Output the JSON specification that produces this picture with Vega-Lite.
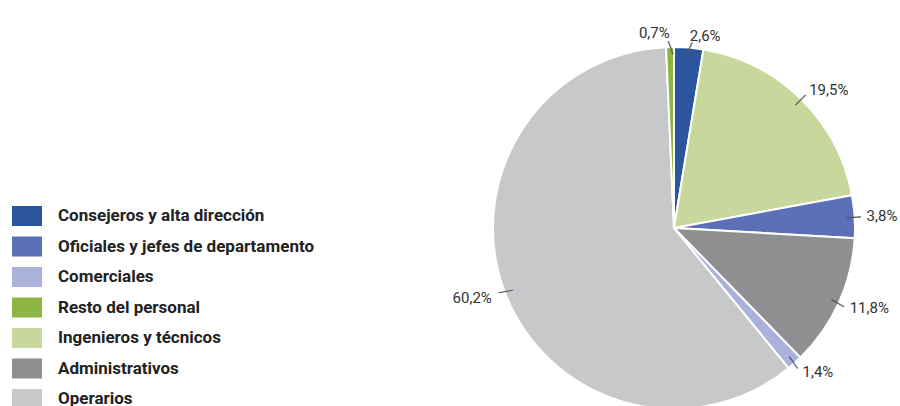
{
  "$schema": "https://vega.github.io/schema/vega-lite/v6.json",
  "width": 362,
  "height": 362,
  "autosize": {"type": "none"},
  "padding": {"left": 493, "top": 47, "right": 45, "bottom": 0},
  "background": "white",
  "config": {"view": {"stroke": null}},
  "data": {
    "values": [
      {"cat": "Consejeros y alta dirección", "pct": 2.6, "ord": 1, "label": "2,6%"},
      {"cat": "Ingenieros y técnicos", "pct": 19.5, "ord": 2, "label": "19,5%"},
      {"cat": "Oficiales y jefes de departamento", "pct": 3.8, "ord": 3, "label": "3,8%"},
      {"cat": "Administrativos", "pct": 11.8, "ord": 4, "label": "11,8%"},
      {"cat": "Comerciales", "pct": 1.4, "ord": 5, "label": "1,4%"},
      {"cat": "Operarios", "pct": 60.2, "ord": 6, "label": "60,2%"},
      {"cat": "Resto del personal", "pct": 0.7, "ord": 7, "label": "0,7%"}
    ]
  },
  "encoding": {
    "theta": {"field": "pct", "type": "quantitative", "stack": true},
    "order": {"field": "ord", "type": "quantitative"}
  },
  "layer": [
    {
      "mark": {"type": "arc", "stroke": "white", "strokeWidth": 2},
      "encoding": {
        "color": {
          "field": "cat",
          "type": "nominal",
          "scale": {
            "domain": ["Consejeros y alta dirección", "Oficiales y jefes de departamento", "Comerciales", "Resto del personal", "Ingenieros y técnicos", "Administrativos", "Operarios"],
            "range": ["#2b569e", "#5b70b6", "#aab2dc", "#8cb641", "#c8d89c", "#8e8f91", "#c7c8ca"]
          },
          "legend": {
            "orient": "none",
            "legendX": -481,
            "legendY": 154,
            "title": null,
            "symbolType": "M-1,-0.667H1V0.667H-1Z",
            "symbolSize": 900,
            "symbolStrokeWidth": 0,
            "labelFont": "Roboto",
            "labelFontSize": 17,
            "labelFontWeight": "bold",
            "labelColor": "#222222",
            "labelOffset": 16,
            "rowPadding": 4.5,
            "labelLimit": 400
          }
        }
      }
    },
    {
      "mark": {"type": "text", "radius": 180, "fontSize": 16, "color": "#555555", "align": "center", "baseline": "middle", "font": "DejaVu Sans"},
      "encoding": {
        "text": {"value": "—"},
        "angle": {
          "field": "cat",
          "type": "nominal",
          "scale": {
            "type": "ordinal",
            "domain": ["Consejeros y alta dirección", "Ingenieros y técnicos", "Oficiales y jefes de departamento", "Administrativos", "Comerciales", "Operarios", "Resto del personal"],
            "range": [-65, -45, -4, 30, 55, 170, 250]
          },
          "legend": null
        }
      }
    },
    {
      "mark": {"type": "text", "radius": 193, "fontSize": 15, "color": "#333333", "align": "left", "baseline": "middle", "font": "Roboto"},
      "encoding": {
        "text": {"condition": {"test": "datum.ord <= 5", "field": "label"}, "value": ""}
      }
    },
    {
      "mark": {"type": "text", "radius": 195, "fontSize": 15, "color": "#333333", "align": "right", "baseline": "middle", "font": "Roboto"},
      "encoding": {
        "text": {"condition": {"test": "datum.ord >= 6", "field": "label"}, "value": ""}
      }
    }
  ]
}
